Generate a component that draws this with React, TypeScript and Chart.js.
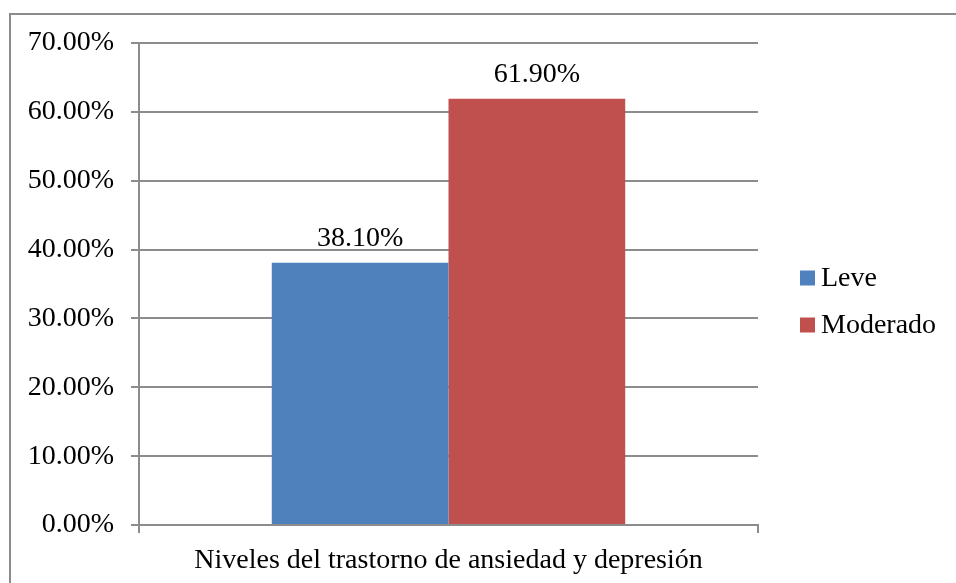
import React, { useEffect, useRef } from "react";
import { Chart, registerables } from "chart.js";

Chart.register(...registerables);

const categories = ["Niveles del trastorno de ansiedad y depresión"];
const seriesNames = ["Leve", "Moderado"];
const leveValues = [38.1];
const moderadoValues = [61.9];
const seriesColors = ["#4f81bd", "#c0504d"];
const yMin = 0;
const yMax = 70;
const yStep = 10;

const FONT = "'Liberation Serif', 'DejaVu Serif', serif";
const FONT_SIZE = 28;

const valueLabels = {
  id: "valueLabels",
  afterDatasetsDraw(chart: any) {
    const ctx = chart.ctx;
    ctx.save();
    ctx.font = `${FONT_SIZE}px ${FONT}`;
    ctx.fillStyle = "#000";
    ctx.textAlign = "center";
    ctx.textBaseline = "alphabetic";
    chart.data.datasets.forEach((ds: any, i: number) => {
      const meta = chart.getDatasetMeta(i);
      meta.data.forEach((bar: any, j: number) => {
        const v = ds.data[j] as number;
        ctx.fillText(v.toFixed(2) + "%", bar.x, bar.y - 17);
      });
    });
    ctx.restore();
  },
};

const sideLegend = {
  id: "sideLegend",
  afterDraw(chart: any) {
    const ctx = chart.ctx;
    ctx.save();
    ctx.font = `${FONT_SIZE}px ${FONT}`;
    ctx.textBaseline = "middle";
    ctx.textAlign = "left";
    const x0 = 800;
    const yStart = 278;
    const gap = 47;
    chart.data.datasets.forEach((ds: any, i: number) => {
      const cy = yStart + i * gap;
      ctx.fillStyle = ds.backgroundColor;
      ctx.fillRect(x0, cy - 7.5, 15, 15);
      ctx.fillStyle = "#000";
      ctx.fillText(ds.label, x0 + 21, cy + 1);
    });
    ctx.restore();
  },
};

export default function App() {
  const ref = useRef<HTMLCanvasElement>(null);
  useEffect(() => {
    if (!ref.current) return;
    const chart = new Chart(ref.current, {
      type: "bar",
      data: {
        labels: categories,
        datasets: [
          { label: seriesNames[0], data: leveValues, backgroundColor: seriesColors[0] },
          { label: seriesNames[1], data: moderadoValues, backgroundColor: seriesColors[1] },
        ],
      },
      options: {
        animation: false,
        responsive: false,
        devicePixelRatio: 1,
        layout: { padding: { left: 0, top: 43, right: 198, bottom: 0 } },
        datasets: { bar: { categoryPercentage: 0.571, barPercentage: 1 } },
        plugins: {
          legend: { display: false },
          tooltip: { enabled: false },
          title: { display: false },
        },
        scales: {
          x: {
            afterFit: (s: any) => { s.height = 58; },
            grid: {
              offset: true,
              drawOnChartArea: false,
              drawTicks: true,
              tickLength: 8,
              color: "#8c8c8c",
              lineWidth: 2,
            },
            border: { display: true, color: "#8c8c8c", width: 2 },
            ticks: {
              color: "#000",
              font: { family: FONT, size: FONT_SIZE },
              padding: 11,
              maxRotation: 0,
            },
          },
          y: {
            min: yMin,
            max: yMax,
            afterFit: (s: any) => { s.width = 139; },
            grid: {
              color: "#8c8c8c",
              lineWidth: 2,
              drawTicks: true,
              tickLength: 8,
            },
            border: { display: true, color: "#8c8c8c", width: 2 },
            ticks: {
              stepSize: yStep,
              color: "#000",
              font: { family: FONT, size: FONT_SIZE },
              padding: 17,
              callback: (v: any) => Number(v).toFixed(2) + "%",
            },
          },
        },
      },
      plugins: [valueLabels, sideLegend],
    });
    return () => chart.destroy();
  }, []);

  return (
    <div style={{ position: "absolute", left: 0, top: 0, width: 956, height: 583, background: "#fff" }}>
      <div
        style={{
          position: "absolute",
          left: 9,
          top: 13,
          width: 1000,
          height: 700,
          border: "2px solid #8c8c8c",
          boxSizing: "border-box",
        }}
      />
      <canvas ref={ref} width={956} height={583} style={{ position: "absolute", left: 0, top: 0 }} />
    </div>
  );
}
